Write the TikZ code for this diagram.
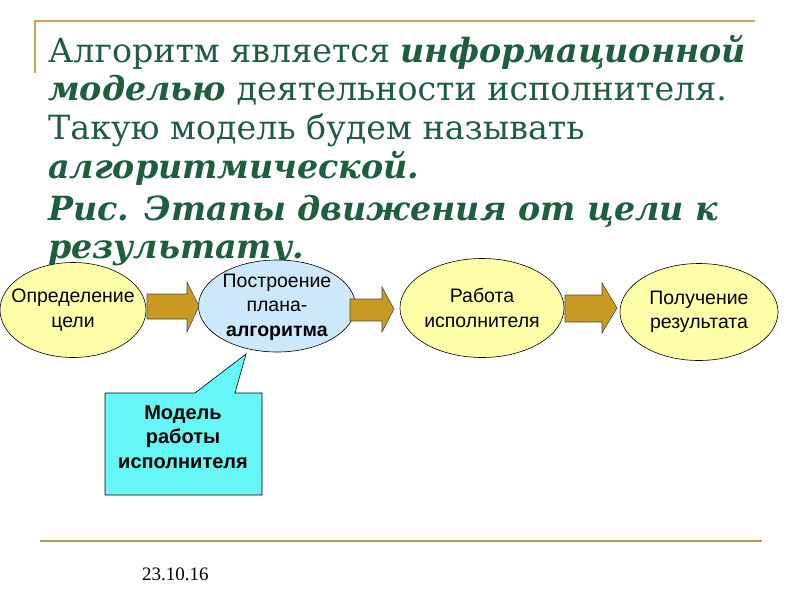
\documentclass[tikz,border=0pt]{standalone}
\usepackage{fontspec}
\setmainfont{Liberation Serif}
\newfontfamily\arialf{Liberation Sans}
\newfontfamily\djs{DejaVu Serif}
\usetikzlibrary{shapes.geometric}
\definecolor{ttl}{HTML}{1E5E3C}
\definecolor{gold}{HTML}{C8A848}
\definecolor{gline}{HTML}{B8A040}
\definecolor{yel}{HTML}{FFFFAA}
\definecolor{lblue}{HTML}{CCE8FA}
\definecolor{cyanbox}{HTML}{66F6F6}
\definecolor{arrowc}{HTML}{C89A22}
\tikzset{
  ttlline/.style={anchor=base west, inner sep=0pt, text=ttl, font=\djs\fontsize{33.3}{40}\selectfont},
  stage/.style={ellipse, draw=black, line width=0.6pt, inner sep=0pt},
  stagetext/.style={align=center, inner sep=0pt, font=\arialf\fontsize{19.5}{24.5}\selectfont},
  blockarrow/.style={fill=arrowc, draw=black!70, line width=0.6pt},
}
\begin{document}
\begin{tikzpicture}[x=1pt,y=-1pt]
\useasboundingbox (0,0) rectangle (800,600);
\fill[white] (0,0) rectangle (800,600);
% frame
\draw[gold, line width=1.5pt] (35,73) -- (35,21) -- (755,21);
\draw[gline, line width=2.5pt] (40,541) -- (762,541);
% title
\node[ttlline] (t1) at (48,62) {Алгоритм является \textbf{\textit{информационной}}};
\node[ttlline] (t2) at (48,100) {\textbf{\textit{моделью}} деятельности исполнителя.};
\node[ttlline] (t3) at (48,139) {Такую модель будем называть};
\node[ttlline] (t4) at (48,178) {\textbf{\textit{алгоритмической.}}};
\node[ttlline] (t5) at (48,220) {\textbf{\textit{Рис. Этапы движения от цели к}}};
\node[ttlline] (t6) at (48,258) {\textbf{\textit{результату.}}};
% stages
\node[stage, fill=yel, minimum width=146, minimum height=95] (s1) at (73,310) {};
\node[stagetext] at (s1) {Определение\\цели};
\node[stage, fill=lblue, minimum width=157, minimum height=92] (s2) at (277,306) {};
\node[stagetext] at (277,307) {Построение\\плана-\\\textbf{алгоритма}};
\node[stage, fill=yel, minimum width=164, minimum height=99] (s3) at (482,308) {};
\node[stagetext] at (s3) {Работа\\исполнителя};
\node[stage, fill=yel, minimum width=158, minimum height=97] (s4) at (699,312) {};
\node[stagetext] at (s4) {Получение\\результата};
% block arrows
\draw[blockarrow] (147,294) -- (187,294) -- (187,282) -- (199,306) -- (187,332) -- (187,319) -- (147,319) -- cycle;
\draw[blockarrow] (350,299) -- (382,299) -- (382,287) -- (394,309) -- (382,332) -- (382,321) -- (350,321) -- cycle;
\draw[blockarrow] (565,295) -- (602,295) -- (602,283) -- (617,308) -- (602,333) -- (602,322) -- (565,322) -- cycle;
% callout
\draw[fill=cyanbox, line width=0.6pt] (105,393) -- (195,393) -- (246,354) -- (235,393) -- (262,393) -- (262,495) -- (105,495) -- cycle;
\node[align=center, font=\arialf\bfseries\fontsize{20}{24.5}\selectfont] (c) at (183,437) {Модель\\работы\\исполнителя};
% date
\node[anchor=base west, inner sep=0pt, font=\fontsize{19}{22}\selectfont] (d) at (142,580) {23.10.16};
\end{tikzpicture}
\end{document}
